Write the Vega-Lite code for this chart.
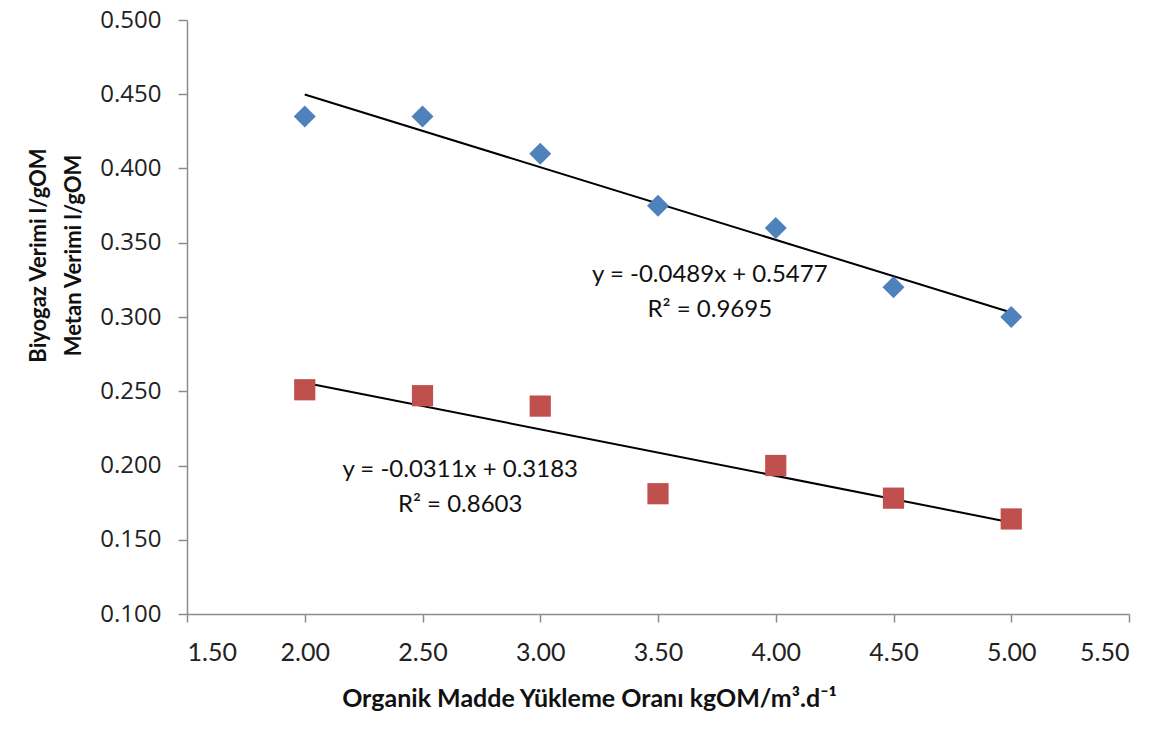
{
  "$schema": "https://vega.github.io/schema/vega-lite/v6.json",
  "autosize": "none",
  "width": 942,
  "height": 594,
  "padding": {"left": 187, "top": 20, "right": 30, "bottom": 118},
  "background": "white",
  "config": {
    "view": {"stroke": null},
    "axis": {"grid": false, "domainColor": "#8c8c8c", "tickColor": "#8c8c8c", "domainWidth": 1.5, "tickWidth": 1.5, "labelColor": "#222", "titleColor": "#111"}
  },
  "datasets": {
    "points": [
      {"oran": 2.0, "verim": 0.435, "seri": "Biyogaz"},
      {"oran": 2.5, "verim": 0.435, "seri": "Biyogaz"},
      {"oran": 3.0, "verim": 0.410, "seri": "Biyogaz"},
      {"oran": 3.5, "verim": 0.375, "seri": "Biyogaz"},
      {"oran": 4.0, "verim": 0.360, "seri": "Biyogaz"},
      {"oran": 4.5, "verim": 0.320, "seri": "Biyogaz"},
      {"oran": 5.0, "verim": 0.300, "seri": "Biyogaz"},
      {"oran": 2.0, "verim": 0.251, "seri": "Metan"},
      {"oran": 2.5, "verim": 0.247, "seri": "Metan"},
      {"oran": 3.0, "verim": 0.240, "seri": "Metan"},
      {"oran": 3.5, "verim": 0.181, "seri": "Metan"},
      {"oran": 4.0, "verim": 0.200, "seri": "Metan"},
      {"oran": 4.5, "verim": 0.178, "seri": "Metan"},
      {"oran": 5.0, "verim": 0.164, "seri": "Metan"}
    ],
    "notes": [
      {"oran": 3.72, "verim": 0.3283, "label": "y = -0.0489x + 0.5477\nR² = 0.9695"},
      {"oran": 2.66, "verim": 0.197, "label": "y = -0.0311x + 0.3183\nR² = 0.8603"}
    ]
  },
  "layer": [
    {
      "data": {"name": "points"},
      "transform": [{"regression": "verim", "on": "oran", "groupby": ["seri"], "extent": [2, 5]}],
      "mark": {"type": "line", "color": "black", "strokeWidth": 2},
      "encoding": {
        "x": {"field": "oran", "type": "quantitative", "scale": {"domain": [1.5, 5.5], "nice": false},
          "axis": {"values": [1.5, 2, 2.5, 3, 3.5, 4, 4.5, 5, 5.5], "format": ".2f", "labelFont": "Lato", "labelFontSize": 25, "labelPadding": 18, "tickSize": 8,
            "title": "Organik Madde Yükleme Oranı kgOM/m³.d⁻¹", "titleFont": "Lato", "titleFontSize": 25, "titleFontWeight": "bold",
            "titleX": 402, "titleY": 84, "titleAlign": "center", "titleBaseline": "middle"}},
        "y": {"field": "verim", "type": "quantitative", "scale": {"domain": [0.1, 0.5], "nice": false, "zero": false},
          "axis": {"values": [0.1, 0.15, 0.2, 0.25, 0.3, 0.35, 0.4, 0.45, 0.5], "format": ".3f", "labelFont": "Open Sans", "labelFontSize": 24, "labelPadding": 17, "tickSize": 9,
            "title": ["Biyogaz Verimi l/gOM", "Metan Verimi l/gOM"], "titleFont": "Lato", "titleFontSize": 22, "titleFontWeight": "bold", "titleLineHeight": 35,
            "titleAngle": -90, "titleX": -149, "titleY": 235, "titleAlign": "center", "titleBaseline": "middle"}},
        "detail": {"field": "seri"}
      }
    },
    {
      "data": {"name": "points"},
      "mark": {"type": "point", "filled": true, "opacity": 1},
      "encoding": {
        "x": {"field": "oran", "type": "quantitative"},
        "y": {"field": "verim", "type": "quantitative"},
        "shape": {"field": "seri", "type": "nominal", "scale": {"domain": ["Biyogaz", "Metan"], "range": ["diamond", "square"]}, "legend": null},
        "color": {"field": "seri", "type": "nominal", "scale": {"domain": ["Biyogaz", "Metan"], "range": ["#4F81BD", "#C0504D"]}, "legend": null},
        "size": {"field": "seri", "type": "nominal", "scale": {"domain": ["Biyogaz", "Metan"], "range": [484, 450]}, "legend": null}
      }
    },
    {
      "data": {"name": "notes"},
      "mark": {"type": "text", "lineBreak": "\n", "font": "Lato", "fontSize": 24, "color": "#111", "align": "center", "baseline": "middle", "lineHeight": 35},
      "encoding": {
        "x": {"field": "oran", "type": "quantitative"},
        "y": {"field": "verim", "type": "quantitative"},
        "text": {"field": "label"}
      }
    }
  ]
}
